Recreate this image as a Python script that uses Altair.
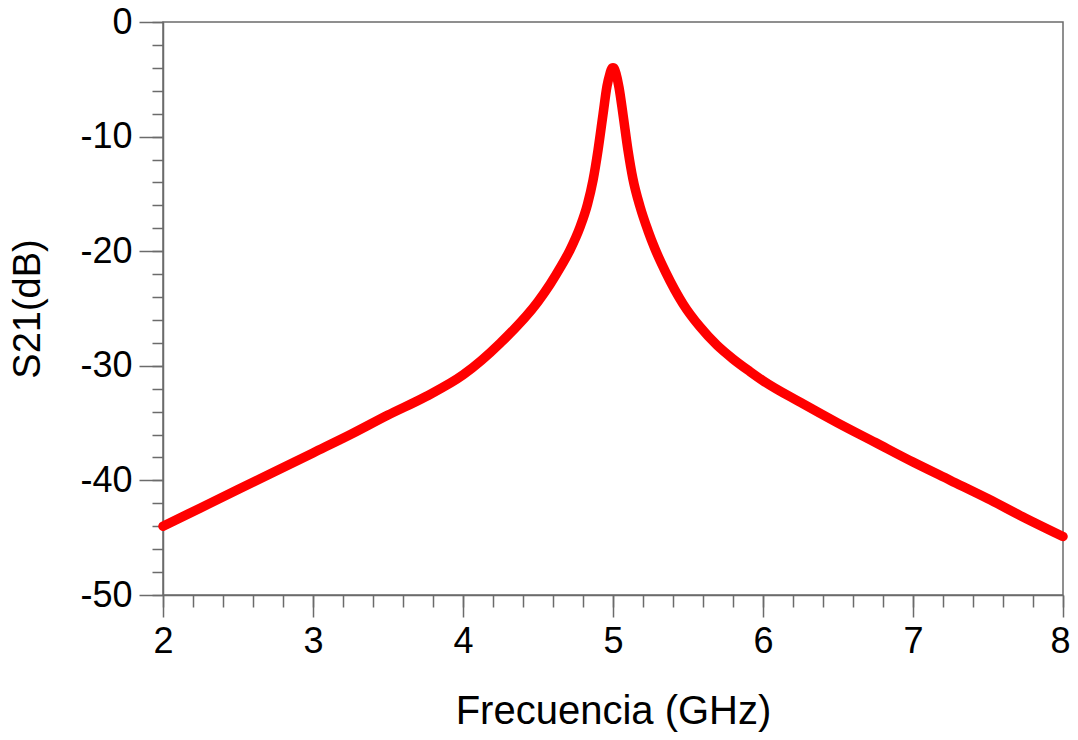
import altair as alt
import pandas as pd

# Frequency (GHz) and S21 (dB)
freq = [2.0, 2.25, 2.5, 2.75, 3.0, 3.25, 3.5, 3.75, 4.0, 4.25, 4.5, 4.58, 4.65, 4.713,
        4.78, 4.83, 4.867, 4.9, 4.933, 4.96, 4.98, 4.99, 5.0, 5.01, 5.02, 5.04, 5.067,
        5.1, 5.133, 5.18, 5.233, 5.28, 5.35, 5.467, 5.58, 5.693, 5.8, 5.913, 6.0, 6.25,
        6.5, 6.75, 7.0, 7.25, 7.5, 7.75, 8.0]
s21 = [-44.0, -42.4, -40.8, -39.2, -37.6, -36.0, -34.3, -32.7, -30.8, -28.0, -24.4,
       -22.9, -21.4, -19.9, -17.9, -15.9, -13.8, -11.2, -8.1, -5.6, -4.5, -4.1, -4.0,
       -4.1, -4.5, -5.7, -8.1, -11.2, -13.7, -16.1, -18.2, -19.8, -21.8, -24.6, -26.6,
       -28.2, -29.4, -30.5, -31.3, -33.2, -35.0, -36.7, -38.4, -40.0, -41.6, -43.3,
       -44.9]

x_major = [2, 3, 4, 5, 6, 7, 8]
x_minor = [round(2 + 0.2 * i, 1) for i in range(31)]
y_major = [0, -10, -20, -30, -40, -50]
y_minor = list(range(-50, 1, 2))

df = pd.DataFrame({"f": freq, "s": s21})

AX = "#6b6b6b"
FONT = "Liberation Sans"

xs = alt.Scale(domain=[2, 8], nice=False, zero=False)
ys = alt.Scale(domain=[-50, 0], nice=False, zero=False)

major = alt.Chart(df).mark_line(
    color="#ff0000", strokeWidth=9.5, strokeCap="round", strokeJoin="round",
    interpolate="monotone"
).encode(
    x=alt.X("f:Q", scale=xs, axis=alt.Axis(
        orient="bottom", values=x_major, tickSize=22, tickWidth=1.5, tickColor=AX,
        domainColor=AX, domainWidth=1.5, grid=False, labelFontSize=36,
        labelFont=FONT, labelColor="black", labelPadding=7, labelFlush=False,
        labelOffset={"condition": {"test": "datum.value == 8", "value": -3}, "value": 0},
        labelExpr="'' + datum.value",
        title="Frecuencia (GHz)", titleFontSize=40, titleFont=FONT,
        titleFontWeight="normal", titleColor="black", titlePadding=32)),
    y=alt.Y("s:Q", scale=ys, axis=alt.Axis(
        orient="left", values=y_major, tickSize=24, tickWidth=1.5, tickColor=AX,
        domainColor=AX, domainWidth=1.5, grid=False, labelFontSize=36,
        labelFont=FONT, labelColor="black", labelPadding=7, labelFlush=False,
        labelExpr="'' + datum.value",
        title="S21(dB)", titleFontSize=38, titleFont=FONT,
        titleFontWeight="normal", titleColor="black", titlePadding=32)),
)

minor = alt.Chart(df).mark_line(opacity=0).encode(
    x=alt.X("f:Q", scale=xs, axis=alt.Axis(
        orient="bottom", values=x_minor, tickSize=12, tickWidth=1.5, tickColor=AX,
        domain=False, grid=False, labels=False, title=None)),
    y=alt.Y("s:Q", scale=ys, axis=alt.Axis(
        orient="left", values=y_minor, tickSize=11, tickWidth=1.5, tickColor=AX,
        domain=False, grid=False, labels=False, title=None)),
)

chart = alt.layer(minor, major).resolve_axis(x="independent", y="independent").properties(
    width=900, height=573,
    view=alt.ViewBackground(stroke=AX, strokeWidth=1.5),
    autosize=alt.AutoSizeParams(type="none"),
    padding={"left": 155, "top": 14, "right": 7, "bottom": 137},
).configure_view(stroke=AX, strokeWidth=1.5).configure(background="white")

chart.save("out.html", embed_options={"renderer": "svg", "actions": False})
